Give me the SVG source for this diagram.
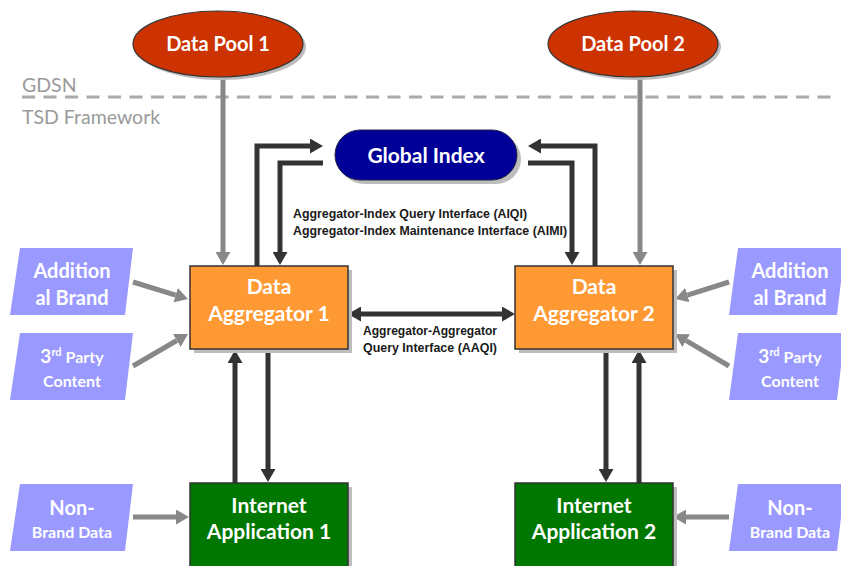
<svg xmlns="http://www.w3.org/2000/svg" width="841" height="566" viewBox="0 0 841 566">
  <defs>
    <style>
      .lbl { font-family: Lato, "Liberation Sans", sans-serif; font-weight: bold; fill: #ffffff; text-anchor: middle; }
      .layer { font-family: Lato, "Liberation Sans", sans-serif; fill: #9a9a9a; font-size: 19.5px; }
      .note { font-family: "Liberation Sans", Arial, sans-serif; font-weight: bold; fill: #1a1a1a; font-size: 12px; }
      .shadow { fill: #bdbdbd; }
      .pool { fill: #cc3300; stroke: #333333; stroke-width: 1.2; }
      .agg { fill: #ff9933; stroke: #333333; stroke-width: 1.5; }
      .app { fill: #007700; stroke: #333333; stroke-width: 1.5; }
      .src { fill: #9999ff; }
      .dark { fill: none; stroke: #333333; stroke-width: 5; }
      .grey { fill: none; stroke: #888888; stroke-width: 5; }
    </style>
    <marker id="headDark" viewBox="0 0 13 15" markerWidth="13" markerHeight="15" refX="0" refY="7.5" orient="auto-start-reverse" markerUnits="userSpaceOnUse">
      <path d="M0,0 L13,7.5 L0,15 z" fill="#333333"/>
    </marker>
    <marker id="headGrey" viewBox="0 0 13 15" markerWidth="13" markerHeight="15" refX="0" refY="7.5" orient="auto" markerUnits="userSpaceOnUse">
      <path d="M0,0 L13,7.5 L0,15 z" fill="#888888"/>
    </marker>
  </defs>

  <rect width="841" height="566" fill="#ffffff"/>

  <!-- GDSN / TSD boundary -->
  <g id="boundary">
    <line x1="22" y1="97" x2="832" y2="97" stroke="#aaaaaa" stroke-width="3" stroke-dasharray="13 8.5"/>
    <text class="layer" x="22" y="92">GDSN</text>
    <text class="layer" x="22" y="124">TSD Framework</text>
  </g>

  <!-- connectors -->
  <g id="connectors">
    <path class="grey" d="M223,78 V252" marker-end="url(#headGrey)"/>
    <path class="grey" d="M640,78 V252" marker-end="url(#headGrey)"/>

    <path class="dark" d="M257,266 V146 H310" marker-end="url(#headDark)"/>
    <path class="dark" d="M323,163 H280 V252" marker-end="url(#headDark)"/>
    <path class="dark" d="M595,266 V146 H541" marker-end="url(#headDark)"/>
    <path class="dark" d="M528,163 H572 V252" marker-end="url(#headDark)"/>

    <path class="dark" d="M361,314 H502" marker-start="url(#headDark)" marker-end="url(#headDark)"/>

    <path class="dark" d="M268,349 V469" marker-end="url(#headDark)"/>
    <path class="dark" d="M235,484 V363" marker-end="url(#headDark)"/>
    <path class="dark" d="M606,349 V469" marker-end="url(#headDark)"/>
    <path class="dark" d="M639,484 V363" marker-end="url(#headDark)"/>

    <path class="grey" d="M133,282 L175.6,295.2" marker-end="url(#headGrey)"/>
    <path class="grey" d="M133,366 L176.8,340.5" marker-end="url(#headGrey)"/>
    <path class="grey" d="M729,282 L687.4,295.1" marker-end="url(#headGrey)"/>
    <path class="grey" d="M729,366 L686.2,340.6" marker-end="url(#headGrey)"/>
    <path class="grey" d="M133,517 H176" marker-end="url(#headGrey)"/>
    <path class="grey" d="M729,517 H686" marker-end="url(#headGrey)"/>

    <text class="note" x="293" y="218" textLength="234" lengthAdjust="spacingAndGlyphs">Aggregator-Index Query Interface (AIQI)</text>
    <text class="note" x="293" y="235" textLength="274" lengthAdjust="spacingAndGlyphs">Aggregator-Index Maintenance Interface (AIMI)</text>
    <text class="note" x="430" y="335" text-anchor="middle" textLength="134" lengthAdjust="spacingAndGlyphs">Aggregator-Aggregator</text>
    <text class="note" x="430" y="352" text-anchor="middle" textLength="134" lengthAdjust="spacingAndGlyphs">Query Interface (AAQI)</text>
  </g>

  <!-- data pools -->
  <g id="data-pool-1">
    <ellipse class="shadow" cx="221" cy="47" rx="85" ry="33"/>
    <ellipse class="pool" cx="218" cy="44" rx="85" ry="33"/>
    <text class="lbl" x="218" y="51" font-size="20">Data Pool 1</text>
  </g>
  <g id="data-pool-2">
    <ellipse class="shadow" cx="636" cy="47" rx="85" ry="33"/>
    <ellipse class="pool" cx="633" cy="44" rx="85" ry="33"/>
    <text class="lbl" x="633" y="51" font-size="20">Data Pool 2</text>
  </g>

  <!-- global index -->
  <g id="global-index">
    <rect class="shadow" x="339" y="134" width="182" height="50" rx="25"/>
    <rect x="335" y="130" width="182" height="50" rx="25" fill="#000099" stroke="#222244" stroke-width="1"/>
    <text class="lbl" x="426" y="163" font-size="21">Global Index</text>
  </g>

  <!-- aggregators -->
  <g id="data-aggregator-1">
    <rect class="shadow" x="194" y="270" width="158" height="83"/>
    <rect class="agg" x="190" y="266" width="158" height="83"/>
    <text class="lbl" x="269" y="294" font-size="21">Data</text>
    <text class="lbl" x="269" y="321" font-size="21">Aggregator 1</text>
  </g>
  <g id="data-aggregator-2">
    <rect class="shadow" x="519" y="270" width="158" height="83"/>
    <rect class="agg" x="515" y="266" width="158" height="83"/>
    <text class="lbl" x="594" y="294" font-size="21">Data</text>
    <text class="lbl" x="594" y="321" font-size="21">Aggregator 2</text>
  </g>

  <!-- internet applications -->
  <g id="internet-application-1">
    <rect class="shadow" x="194" y="487" width="158" height="90"/>
    <rect class="app" x="190" y="483" width="158" height="90"/>
    <text class="lbl" x="269" y="513" font-size="21">Internet</text>
    <text class="lbl" x="269" y="539" font-size="21">Application 1</text>
  </g>
  <g id="internet-application-2">
    <rect class="shadow" x="519" y="487" width="158" height="90"/>
    <rect class="app" x="515" y="483" width="158" height="90"/>
    <text class="lbl" x="594" y="513" font-size="21">Internet</text>
    <text class="lbl" x="594" y="539" font-size="21">Application 2</text>
  </g>

  <!-- left-hand sources -->
  <g id="additional-brand-1">
    <polygon class="src" points="20,248 133,248 125,315 10,315"/>
    <text class="lbl" x="72" y="278" font-size="20">Addition</text>
    <text class="lbl" x="72" y="305" font-size="20">al Brand</text>
  </g>
  <g id="third-party-1">
    <polygon class="src" points="20,333 133,333 125,400 10,400"/>
    <text class="lbl" x="72" y="363" font-size="16"><tspan font-size="19">3</tspan><tspan font-size="11" dy="-7">rd</tspan><tspan dy="7"> Party</tspan></text>
    <text class="lbl" x="72" y="387" font-size="16">Content</text>
  </g>
  <g id="non-brand-1">
    <polygon class="src" points="20,484 133,484 125,551 10,551"/>
    <text class="lbl" x="72" y="515" font-size="20">Non-</text>
    <text class="lbl" x="72" y="538" font-size="16">Brand Data</text>
  </g>

  <!-- right-hand sources -->
  <g id="additional-brand-2">
    <polygon class="src" points="738,248 845,248 837,315 729,315"/>
    <text class="lbl" x="790" y="278" font-size="20">Addition</text>
    <text class="lbl" x="790" y="305" font-size="20">al Brand</text>
  </g>
  <g id="third-party-2">
    <polygon class="src" points="738,333 845,333 837,400 729,400"/>
    <text class="lbl" x="790" y="363" font-size="16"><tspan font-size="19">3</tspan><tspan font-size="11" dy="-7">rd</tspan><tspan dy="7"> Party</tspan></text>
    <text class="lbl" x="790" y="387" font-size="16">Content</text>
  </g>
  <g id="non-brand-2">
    <polygon class="src" points="738,484 845,484 837,551 729,551"/>
    <text class="lbl" x="790" y="515" font-size="20">Non-</text>
    <text class="lbl" x="790" y="538" font-size="16">Brand Data</text>
  </g>
</svg>
